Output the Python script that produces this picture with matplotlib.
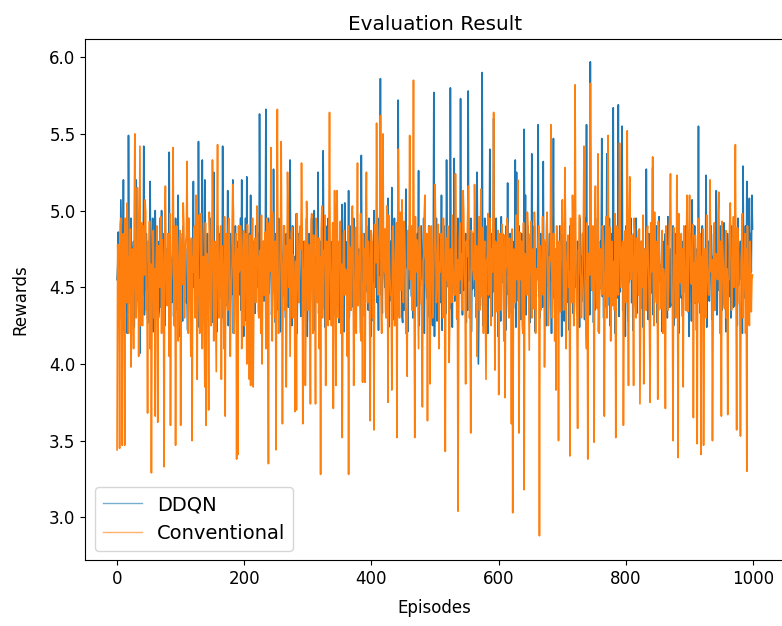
"""Evaluation result: DDQN vs conventional reward per episode."""
import matplotlib
matplotlib.use("Agg")
import matplotlib.pyplot as plt
import numpy as np

EPISODES = list(range(1000))

DDQN = [
    4.55, 4.64, 4.86, 4.28, 4.30, 4.53, 5.07, 4.75, 4.45, 4.40,  # 0-9
    5.20, 4.22, 4.40, 4.58, 4.85, 4.45, 4.20, 4.33, 5.49, 4.68,
    4.60, 4.50, 4.95, 4.36, 4.35, 4.73, 4.80, 4.24, 4.50, 4.57,
    5.20, 4.41, 4.55, 4.67, 4.90, 4.29, 4.07, 4.55, 4.70, 4.46,
    4.45, 4.60, 5.42, 4.32, 4.60, 4.48, 4.85, 4.69, 4.30, 4.27,
    4.75, 4.35, 5.19, 4.54, 4.40, 4.63, 4.95, 4.21, 4.55, 4.49,
    5.00, 4.71, 4.50, 4.44, 4.80, 4.30, 4.35, 4.59, 4.95, 4.37,
    5.00, 4.38, 4.60, 4.62, 4.85, 4.25, 4.45, 4.51, 4.75, 4.70,
    4.50, 4.55, 5.38, 4.20, 4.70, 4.66, 4.40, 4.43, 4.90, 4.31,
    4.55, 4.47, 4.95, 4.72, 4.35, 4.35, 5.10, 4.60, 4.60, 4.18,
    4.85, 4.64, 4.40, 4.28, 4.90, 4.53, 4.55, 4.75, 4.75, 4.40,  # 100-109
    4.45, 4.22, 4.95, 4.58, 4.60, 4.45, 4.80, 4.33, 4.35, 4.68,
    5.19, 4.50, 4.60, 4.36, 4.85, 4.73, 4.40, 4.24, 5.45, 4.57,
    4.65, 4.41, 4.90, 4.67, 5.33, 4.29, 4.50, 4.55, 5.20, 4.46,
    4.55, 4.60, 4.85, 4.32, 4.40, 4.48, 4.95, 4.69, 4.60, 4.27,
    4.80, 4.35, 5.25, 4.54, 4.45, 4.63, 4.70, 4.21, 4.90, 4.49,
    4.50, 4.71, 4.85, 4.44, 4.60, 4.30, 5.42, 4.59, 4.40, 4.37,
    4.75, 4.38, 4.55, 4.62, 5.13, 4.25, 4.65, 4.51, 4.85, 4.70,
    4.45, 4.55, 5.20, 4.20, 4.70, 4.66, 4.90, 4.43, 4.55, 4.31,
    4.80, 4.47, 4.45, 4.72, 4.95, 4.35, 5.20, 4.60, 4.60, 4.18,
    4.70, 4.64, 4.95, 4.28, 5.22, 4.53, 4.50, 4.75, 4.85, 4.40,  # 200-209
    5.10, 4.22, 4.60, 4.58, 4.80, 4.45, 4.45, 4.33, 4.90, 4.68,
    4.55, 4.50, 4.85, 4.36, 5.63, 4.73, 4.65, 4.24, 4.40, 4.57,
    4.80, 4.41, 4.60, 4.67, 5.66, 4.29, 4.50, 4.55, 4.95, 4.46,
    4.65, 4.60, 4.90, 4.32, 4.45, 4.48, 5.27, 4.69, 4.70, 4.27,
    4.85, 4.35, 4.55, 4.54, 4.95, 4.63, 4.40, 4.21, 4.75, 4.49,
    4.60, 4.71, 4.90, 4.44, 4.50, 4.30, 4.85, 4.59, 4.65, 4.37,
    4.75, 4.38, 5.33, 4.62, 4.55, 4.25, 4.90, 4.51, 4.45, 4.70,
    4.70, 4.55, 4.98, 4.20, 4.60, 4.66, 4.85, 4.43, 4.50, 4.31,
    4.90, 4.47, 4.55, 4.72, 4.80, 4.35, 4.65, 4.60, 4.95, 4.18,
    4.60, 4.64, 4.85, 4.28, 4.45, 4.53, 4.95, 4.75, 4.70, 4.40,  # 300-309
    5.00, 4.22, 4.65, 4.58, 4.85, 4.45, 5.25, 4.33, 4.55, 4.68,
    4.80, 4.50, 4.60, 4.36, 5.39, 4.73, 4.70, 4.24, 4.90, 4.57,
    4.55, 4.41, 4.95, 4.67, 4.65, 4.29, 4.80, 4.55, 4.45, 4.46,
    4.85, 4.60, 4.60, 4.32, 4.90, 4.48, 4.50, 4.69, 4.75, 4.27,
    4.65, 4.35, 4.85, 4.54, 5.04, 4.63, 4.55, 4.21, 5.05, 4.49,
    4.60, 4.71, 4.80, 4.44, 5.13, 4.30, 4.45, 4.59, 4.90, 4.37,
    4.70, 4.38, 4.95, 4.62, 4.55, 4.25, 4.85, 4.51, 4.60, 4.70,
    4.75, 4.55, 4.50, 4.20, 5.36, 4.66, 4.65, 4.43, 4.85, 4.31,
    4.55, 4.47, 4.90, 4.72, 4.70, 4.35, 4.95, 4.60, 4.60, 4.18,
    4.80, 4.64, 4.65, 4.28, 5.00, 4.53, 4.50, 4.75, 4.85, 4.40,  # 400-409
    4.60, 4.22, 4.95, 4.58, 5.86, 4.45, 4.70, 4.33, 4.85, 4.68,
    4.70, 4.50, 4.55, 4.36, 4.90, 4.73, 5.08, 4.24, 4.65, 4.57,
    4.80, 4.41, 5.15, 4.67, 4.60, 4.29, 4.95, 4.55, 4.50, 4.46,
    4.85, 4.60, 5.72, 4.32, 4.65, 4.48, 4.90, 4.69, 4.31, 4.27,
    4.75, 4.35, 4.60, 4.54, 5.14, 4.63, 4.85, 4.21, 4.55, 4.49,
    4.90, 4.71, 4.65, 4.44, 4.80, 4.30, 4.55, 4.59, 4.95, 4.37,
    4.70, 4.38, 4.85, 4.62, 5.26, 4.25, 4.60, 4.51, 4.90, 4.70,
    4.55, 4.55, 4.95, 4.20, 4.70, 4.66, 4.85, 4.43, 4.65, 4.31,
    4.90, 4.47, 4.80, 4.72, 4.60, 4.35, 4.25, 4.60, 5.77, 4.18,
    4.70, 4.64, 4.95, 4.28, 4.55, 4.53, 4.85, 4.75, 4.65, 4.40,  # 500-509
    5.10, 4.22, 4.75, 4.58, 4.90, 4.45, 4.60, 4.33, 5.33, 4.68,
    4.80, 4.50, 4.65, 4.36, 5.80, 4.73, 4.90, 4.24, 4.70, 4.57,
    5.34, 4.41, 4.85, 4.67, 4.60, 4.29, 4.95, 4.55, 4.75, 4.46,
    5.73, 4.60, 4.70, 4.32, 4.90, 4.48, 4.55, 4.69, 4.85, 4.27,
    4.65, 4.35, 5.78, 4.54, 4.80, 4.63, 4.95, 4.21, 4.60, 4.49,
    4.85, 4.71, 4.70, 4.44, 4.95, 4.30, 5.25, 4.59, 4.00, 4.37,
    4.80, 4.38, 4.60, 4.62, 5.90, 4.25, 4.75, 4.51, 4.95, 4.70,
    4.70, 4.55, 4.90, 4.20, 4.55, 4.66, 5.40, 4.43, 4.85, 4.31,
    4.65, 4.47, 5.60, 4.72, 4.80, 4.35, 4.95, 4.60, 4.60, 4.18,
    4.75, 4.64, 4.60, 4.28, 4.96, 4.53, 4.85, 4.75, 4.55, 4.40,  # 600-609
    4.70, 4.22, 4.90, 4.58, 5.18, 4.45, 4.60, 4.33, 4.85, 4.68,
    4.55, 4.50, 4.80, 4.36, 4.65, 4.73, 5.33, 4.24, 5.25, 4.57,
    4.70, 4.41, 4.90, 4.67, 4.60, 4.29, 4.85, 4.55, 4.75, 4.46,
    5.53, 4.60, 5.10, 4.32, 4.70, 4.48, 4.90, 4.69, 4.60, 4.27,
    4.85, 4.35, 5.37, 4.54, 4.65, 4.63, 4.90, 4.21, 4.55, 4.49,
    4.75, 4.71, 5.56, 4.44, 4.60, 4.30, 4.85, 4.59, 4.70, 4.37,
    5.32, 4.38, 4.80, 4.62, 4.55, 4.25, 4.90, 4.51, 4.65, 4.70,
    4.85, 4.55, 4.60, 4.20, 4.95, 4.66, 5.47, 4.43, 4.70, 4.31,
    4.55, 4.47, 4.80, 4.72, 4.65, 4.35, 4.90, 4.60, 4.60, 4.18,
    4.85, 4.64, 4.50, 4.28, 4.95, 4.53, 4.70, 4.75, 4.80, 4.40,  # 700-709
    4.60, 4.22, 4.90, 4.58, 4.75, 4.45, 4.85, 4.33, 4.55, 4.68,
    4.90, 4.50, 4.65, 4.36, 4.80, 4.73, 4.55, 4.24, 4.95, 4.57,
    4.70, 4.41, 4.85, 4.67, 4.60, 4.29, 4.95, 4.55, 5.56, 4.46,
    4.75, 4.60, 4.90, 4.32, 5.97, 4.48, 4.65, 4.69, 4.85, 4.27,
    4.60, 4.35, 4.95, 4.54, 4.70, 4.63, 4.85, 4.21, 4.55, 4.49,
    4.80, 4.71, 5.47, 4.44, 4.65, 4.30, 4.90, 4.59, 4.70, 4.37,
    5.37, 4.38, 4.75, 4.62, 4.95, 4.25, 4.60, 4.51, 4.85, 4.70,
    5.67, 4.55, 4.70, 4.20, 4.90, 4.66, 4.65, 4.43, 5.69, 4.31,
    4.80, 4.47, 4.95, 4.72, 5.55, 4.35, 4.70, 4.60, 4.60, 4.18,
    4.90, 4.64, 4.75, 4.28, 4.85, 4.53, 4.60, 4.75, 4.95, 4.40,  # 800-809
    4.70, 4.22, 4.85, 4.58, 4.65, 4.45, 4.95, 4.33, 4.75, 4.68,
    4.87, 4.50, 4.60, 4.36, 4.80, 4.73, 4.70, 4.24, 4.55, 4.57,
    4.75, 4.41, 5.27, 4.67, 4.60, 4.29, 4.85, 4.55, 4.70, 4.46,
    4.65, 4.60, 5.28, 4.32, 4.80, 4.48, 4.55, 4.69, 4.90, 4.27,
    4.70, 4.35, 4.96, 4.54, 4.55, 4.63, 4.65, 4.21, 4.80, 4.49,
    4.60, 4.71, 4.85, 4.44, 4.50, 4.30, 4.96, 4.59, 4.70, 4.37,
    4.75, 4.38, 4.55, 4.62, 4.90, 4.25, 4.60, 4.51, 4.85, 4.70,
    4.65, 4.55, 4.50, 4.20, 4.82, 4.66, 4.70, 4.43, 4.55, 4.31,
    4.80, 4.47, 4.60, 4.72, 4.90, 4.35, 4.65, 4.60, 4.75, 4.18,
    4.70, 4.64, 4.85, 4.28, 5.07, 4.53, 4.60, 4.75, 4.90, 4.40,  # 900-909
    4.75, 4.22, 4.65, 4.58, 5.55, 4.45, 4.85, 4.33, 4.60, 4.68,
    4.90, 4.50, 4.70, 4.36, 4.55, 4.73, 5.23, 4.24, 4.65, 4.57,
    4.80, 4.41, 4.60, 4.67, 4.90, 4.29, 4.70, 4.55, 4.85, 4.46,
    4.65, 4.60, 5.13, 4.32, 4.75, 4.48, 4.55, 4.69, 4.90, 4.27,
    4.70, 4.35, 4.60, 4.54, 4.92, 4.63, 4.80, 4.21, 4.65, 4.49,
    4.85, 4.71, 4.55, 4.44, 4.75, 4.30, 4.90, 4.59, 4.60, 4.37,
    4.70, 4.38, 4.85, 4.62, 4.65, 4.25, 4.95, 4.51, 4.55, 4.70,
    4.80, 4.55, 4.65, 4.20, 5.29, 4.66, 4.75, 4.43, 4.90, 4.31,
    5.19, 4.47, 4.70, 4.72, 5.08, 4.35, 4.85, 4.60, 5.10, 4.88,
]

CONVENTIONAL = [
    3.44, 4.78, 4.62, 4.52, 3.45, 4.91, 4.95, 4.66, 3.47, 4.84,  # 0-9
    4.85, 4.60, 3.47, 4.95, 4.70, 4.40, 5.05, 4.82, 4.20, 4.70,
    4.40, 4.88, 3.98, 4.30, 4.75, 4.74, 4.10, 4.97, 5.50, 4.55,
    4.30, 4.45, 5.15, 4.86, 4.05, 4.68, 5.42, 4.25, 4.55, 4.92,
    4.25, 4.72, 4.90, 4.58, 5.07, 4.99, 4.35, 4.48, 3.68, 4.80,
    4.65, 4.93, 4.10, 4.65, 3.29, 4.36, 4.80, 4.87, 4.30, 4.62,
    3.66, 4.55, 4.75, 4.90, 3.62, 4.77, 4.55, 4.50, 4.95, 4.96,
    4.20, 4.81, 4.70, 4.44, 3.33, 4.89, 5.16, 4.71, 4.40, 4.38,
    4.85, 4.67, 4.05, 4.98, 3.60, 4.53, 4.60, 4.85, 5.41, 4.75,
    4.25, 4.90, 3.47, 4.62, 4.90, 4.80, 4.15, 4.34, 4.70, 4.87,
    3.60, 4.78, 4.65, 4.52, 5.05, 4.91, 4.30, 4.66, 4.80, 4.84,  # 100-109
    5.32, 4.60, 4.20, 4.95, 4.75, 4.40, 4.05, 4.82, 3.50, 4.70,
    4.60, 4.88, 4.90, 4.30, 5.10, 4.74, 3.90, 4.97, 4.45, 4.55,
    4.20, 4.45, 4.98, 4.86, 4.10, 4.68, 4.70, 4.25, 3.85, 4.92,
    3.60, 4.72, 4.65, 4.58, 3.70, 4.99, 4.85, 4.48, 4.25, 4.80,
    5.33, 4.93, 4.15, 4.65, 4.80, 4.36, 3.95, 4.87, 5.43, 4.62,
    4.30, 4.55, 4.75, 4.90, 3.90, 4.77, 4.60, 4.50, 4.10, 4.96,
    3.66, 4.81, 4.85, 4.44, 4.35, 4.89, 4.95, 4.71, 4.05, 4.38,
    4.55, 4.67, 5.17, 4.98, 4.20, 4.53, 4.70, 4.85, 3.38, 4.75,
    3.41, 4.90, 4.60, 4.62, 4.90, 4.80, 4.10, 4.34, 4.75, 4.87,
    4.25, 4.78, 4.85, 4.52, 4.00, 4.91, 4.65, 4.66, 3.90, 4.84,  # 200-209
    3.86, 4.60, 4.70, 4.95, 3.85, 4.40, 4.80, 4.82, 4.40, 4.70,
    5.03, 4.88, 4.35, 4.30, 4.70, 4.74, 4.20, 4.97, 4.00, 4.55,
    4.80, 4.45, 4.45, 4.86, 4.10, 4.68, 4.95, 4.25, 3.35, 4.92,
    4.60, 4.72, 5.41, 4.58, 4.15, 4.99, 4.75, 4.48, 4.30, 4.80,
    3.44, 4.93, 5.66, 4.65, 4.20, 4.36, 4.60, 4.87, 5.45, 4.62,
    3.61, 4.55, 4.70, 4.90, 4.35, 4.77, 3.85, 4.50, 5.25, 4.96,
    4.50, 4.81, 4.05, 4.44, 4.85, 4.89, 4.30, 4.71, 4.65, 4.38,
    3.69, 4.67, 3.70, 4.98, 4.80, 4.53, 4.40, 4.85, 4.90, 4.75,
    5.31, 4.90, 3.61, 4.62, 4.60, 4.80, 3.86, 4.34, 5.06, 4.87,
    4.35, 4.78, 4.75, 4.52, 3.74, 4.91, 4.98, 4.66, 4.20, 4.84,  # 300-309
    4.65, 4.60, 3.74, 4.95, 4.85, 4.40, 4.45, 4.82, 4.10, 4.70,
    3.28, 4.88, 5.03, 4.30, 4.50, 4.74, 4.70, 4.97, 3.86, 4.55,
    4.80, 4.45, 4.25, 4.86, 5.64, 4.68, 4.40, 4.25, 4.60, 4.92,
    3.71, 4.72, 5.13, 4.58, 3.86, 4.99, 5.13, 4.48, 4.30, 4.80,
    4.70, 4.93, 4.20, 4.65, 3.52, 4.36, 4.85, 4.87, 4.45, 4.62,
    4.60, 4.55, 4.05, 4.90, 3.28, 4.77, 4.75, 4.50, 4.35, 4.96,
    5.03, 4.81, 3.86, 4.44, 4.55, 4.89, 4.20, 4.71, 5.31, 4.38,
    4.40, 4.67, 4.75, 4.98, 4.15, 4.53, 3.88, 4.85, 4.65, 4.75,
    3.88, 4.90, 5.25, 4.62, 4.40, 4.80, 4.70, 4.34, 3.63, 4.87,
    4.85, 4.78, 4.30, 4.52, 3.57, 4.91, 4.90, 4.66, 5.57, 4.84,  # 400-409
    4.45, 4.60, 4.80, 4.95, 5.62, 4.40, 4.20, 4.82, 5.50, 4.70,
    4.60, 4.88, 4.35, 4.30, 5.03, 4.74, 3.75, 4.97, 4.70, 4.55,
    4.45, 4.45, 3.83, 4.86, 4.90, 4.68, 4.25, 4.25, 4.75, 4.92,
    3.52, 4.72, 5.40, 4.58, 4.30, 4.99, 4.65, 4.48, 5.07, 4.80,
    4.40, 4.93, 4.85, 4.65, 4.20, 4.36, 3.92, 4.87, 4.70, 4.62,
    5.49, 4.55, 4.55, 4.90, 4.35, 4.77, 5.85, 4.50, 3.52, 4.96,
    4.60, 4.81, 4.80, 4.44, 4.10, 4.89, 4.90, 4.71, 4.40, 4.38,
    3.72, 4.67, 4.70, 4.98, 5.10, 4.53, 4.50, 4.85, 3.63, 4.75,
    4.75, 4.90, 3.87, 4.62, 4.90, 4.80, 4.30, 4.34, 4.65, 4.87,
    5.17, 4.78, 4.40, 4.52, 4.75, 4.91, 4.10, 4.66, 4.60, 4.84,  # 500-509
    4.85, 4.60, 4.30, 4.95, 4.70, 4.40, 3.43, 4.82, 4.55, 4.70,
    4.90, 4.88, 4.01, 4.30, 4.75, 4.74, 4.40, 4.97, 4.65, 4.55,
    4.45, 4.45, 5.24, 4.86, 4.30, 4.68, 3.04, 4.25, 4.80, 4.92,
    4.55, 4.72, 4.35, 4.58, 5.13, 4.99, 4.60, 4.48, 3.87, 4.80,
    4.70, 4.93, 5.16, 4.65, 4.30, 4.36, 3.55, 4.87, 4.85, 4.62,
    4.60, 4.55, 5.17, 4.90, 4.40, 4.77, 4.05, 4.50, 4.75, 4.96,
    4.35, 4.81, 5.14, 4.44, 4.55, 4.89, 4.20, 4.71, 4.80, 4.38,
    3.90, 4.67, 4.70, 4.98, 4.45, 4.53, 4.95, 4.85, 4.25, 4.75,
    4.60, 4.90, 5.64, 4.62, 3.96, 4.80, 4.75, 4.34, 4.40, 4.87,
    3.80, 4.78, 4.85, 4.52, 4.35, 4.91, 4.70, 4.66, 4.15, 4.84,  # 600-609
    3.78, 4.60, 4.65, 4.95, 4.90, 4.40, 4.30, 4.82, 4.70, 4.70,
    3.61, 4.88, 3.03, 4.30, 4.75, 4.74, 4.40, 4.97, 4.85, 4.55,
    5.20, 4.45, 3.55, 4.86, 4.55, 4.68, 4.80, 4.25, 4.20, 4.92,
    3.18, 4.72, 4.70, 4.58, 4.45, 4.99, 4.90, 4.48, 4.09, 4.80,
    4.60, 4.93, 4.30, 4.65, 4.75, 4.36, 4.99, 4.87, 4.20, 4.62,
    4.55, 4.55, 4.80, 4.90, 2.88, 4.77, 4.35, 4.50, 4.70, 4.96,
    4.45, 4.81, 3.98, 4.44, 4.65, 4.89, 4.99, 4.71, 4.25, 4.38,
    4.70, 4.67, 5.56, 4.98, 4.30, 4.53, 4.85, 4.85, 4.15, 4.75,
    3.83, 4.90, 4.75, 4.62, 3.50, 4.80, 4.60, 4.34, 4.90, 4.87,
    5.07, 4.78, 4.35, 4.52, 5.28, 4.91, 4.10, 4.66, 4.65, 4.84,  # 700-709
    4.50, 4.60, 3.40, 4.95, 4.80, 4.40, 5.10, 4.82, 4.25, 4.70,
    5.82, 4.88, 4.40, 4.30, 3.58, 4.74, 4.75, 4.97, 4.60, 4.55,
    4.30, 4.45, 4.85, 4.86, 5.42, 4.68, 4.45, 4.25, 4.10, 4.92,
    3.38, 4.72, 4.70, 4.58, 5.83, 4.99, 4.50, 4.48, 4.90, 4.80,
    3.49, 4.93, 5.16, 4.65, 4.40, 4.36, 5.37, 4.87, 4.20, 4.62,
    4.75, 4.55, 4.45, 4.90, 4.85, 4.77, 3.66, 4.50, 4.60, 4.96,
    4.30, 4.81, 5.49, 4.44, 4.55, 4.89, 4.15, 4.71, 4.80, 4.38,
    4.65, 4.67, 4.35, 4.98, 3.52, 4.53, 4.90, 4.85, 4.45, 4.75,
    5.44, 4.90, 4.50, 4.62, 4.75, 4.80, 3.60, 4.34, 4.85, 4.87,
    4.40, 4.78, 5.52, 4.52, 3.86, 4.91, 5.22, 4.66, 4.55, 4.84,  # 800-809
    4.70, 4.60, 3.86, 4.95, 4.85, 4.40, 4.30, 4.82, 4.60, 4.70,
    4.45, 4.88, 3.74, 4.30, 4.80, 4.74, 4.50, 4.97, 3.87, 4.55,
    4.75, 4.45, 4.35, 4.86, 4.90, 4.68, 4.55, 4.25, 3.75, 4.92,
    4.60, 4.72, 5.35, 4.58, 4.25, 4.99, 4.70, 4.48, 4.40, 4.80,
    3.77, 4.93, 4.80, 4.65, 4.45, 4.36, 4.65, 4.87, 4.20, 4.62,
    4.55, 4.55, 3.71, 4.90, 4.75, 4.77, 4.35, 4.50, 4.90, 4.96,
    5.24, 4.81, 4.40, 4.44, 3.50, 4.89, 4.70, 4.71, 4.30, 4.38,
    5.23, 4.67, 3.39, 4.98, 4.65, 4.53, 4.80, 4.85, 4.45, 4.75,
    3.85, 4.90, 4.60, 4.62, 4.35, 4.80, 5.10, 4.34, 4.50, 4.87,
    5.10, 4.78, 4.55, 4.52, 4.80, 4.91, 3.65, 4.66, 4.40, 4.84,  # 900-909
    4.70, 4.60, 3.48, 4.95, 4.60, 4.40, 4.85, 4.82, 3.41, 4.70,
    4.55, 4.88, 3.47, 4.30, 4.75, 4.74, 4.30, 4.97, 4.65, 4.55,
    4.45, 4.45, 5.20, 4.86, 4.60, 4.68, 3.50, 4.25, 4.80, 4.92,
    4.35, 4.72, 4.70, 4.58, 4.55, 4.99, 5.12, 4.48, 4.20, 4.80,
    3.66, 4.93, 4.80, 4.65, 4.40, 4.36, 4.65, 4.87, 4.30, 4.62,
    3.67, 4.55, 4.55, 4.90, 5.05, 4.77, 4.35, 4.50, 4.70, 4.96,
    4.50, 4.81, 5.43, 4.44, 3.57, 4.89, 4.88, 4.71, 4.40, 4.38,
    3.53, 4.67, 4.75, 4.98, 4.30, 4.53, 4.60, 4.85, 4.20, 4.75,
    3.30, 4.90, 4.50, 4.62, 4.25, 4.80, 4.70, 4.34, 4.55, 4.58,
]

plt.rcParams.update({"font.size": 12})

fig = plt.figure(figsize=(7.82, 6.26), dpi=100)
ax = fig.add_axes([0.109, 0.105, 0.894, 0.833])

ax.plot(EPISODES, DDQN, color="#1f77b4", lw=1.2, label="DDQN")
ax.plot(EPISODES, CONVENTIONAL, color="#ff7f0e", lw=1.2,
        label="Conventional")

ax.set_ylim(2.72, 6.12)
ax.set_xlim(-50, 1049)
ax.set_xticks([0, 200, 400, 600, 800, 1000])
ax.set_yticks(np.arange(3.0, 6.01, 0.5))
ax.set_title("Evaluation Result")
ax.set_xlabel("Episodes", labelpad=8)
ax.set_ylabel("Rewards", labelpad=14)
leg = ax.legend(loc="lower left", fontsize=14)
for line in leg.get_lines():
    line.set_linewidth(1.0)
    line.set_alpha(0.6)

fig.savefig("out.png", dpi=100)
